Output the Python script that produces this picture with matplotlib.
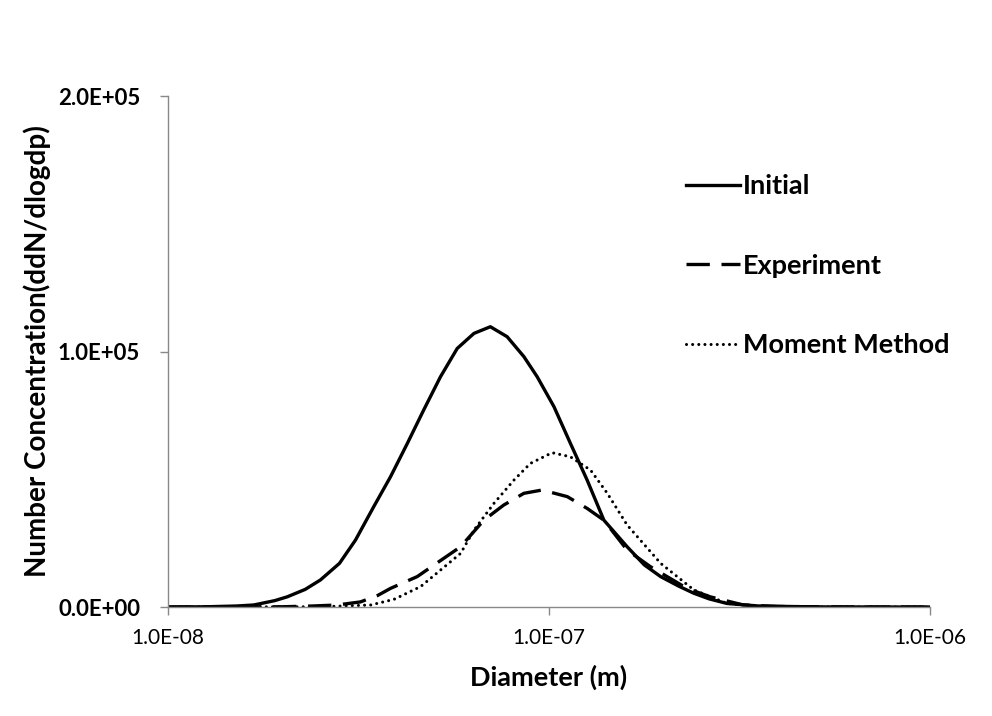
import matplotlib.pyplot as plt
from matplotlib.ticker import FixedLocator, FuncFormatter, NullLocator
import numpy as np

plt.rcParams['font.family'] = ['Lato', 'DejaVu Sans']

# diameters read as log10(d), values in number concentration
init_logd = [-8.0, -7.90, -7.82, -7.775, -7.72, -7.687, -7.64, -7.60, -7.55, -7.508,
             -7.460, -7.416, -7.372, -7.329, -7.285, -7.241, -7.197, -7.154, -7.110,
             -7.066, -7.031, -6.987, -6.944, -6.900, -6.856, -6.795, -6.75, -6.707,
             -6.66, -6.620, -6.58, -6.533, -6.45, -6.30, -6.0]
init_val = [0, 100, 400, 800, 2500, 4000, 6900, 10600, 17100, 26200,
            39300, 51000, 64000, 77100, 90100, 101200, 107100, 109700, 105800,
            98000, 90100, 78400, 64100, 49700, 34000, 23600, 16500, 11900,
            8200, 5400, 3200, 1400, 400, 50, 0]

exp_logd = [-8.0, -7.70, -7.62, -7.556, -7.495, -7.45, -7.416, -7.346, -7.232, -7.171,
            -7.119, -7.066, -7.018, -6.952, -6.900, -6.856, -6.795, -6.734, -6.690,
            -6.638, -6.577, -6.490, -6.40, -6.20, -6.0]
exp_val = [0, 100, 400, 800, 2000, 4500, 7300, 11900, 23600, 34000,
           39900, 44500, 45800, 43200, 38600, 34000, 22300, 15800, 11900,
           7300, 4000, 800, 200, 0, 0]

mom_logd = [-8.0, -7.60, -7.54, -7.468, -7.407, -7.337, -7.232, -7.197, -7.145, -7.092,
            -7.049, -6.992, -6.944, -6.891, -6.847, -6.795, -6.707, -6.620, -6.533,
            -6.45, -6.30, -6.0]
mom_val = [0, 100, 400, 800, 3000, 8000, 21000, 30100, 40500, 49700,
           56200, 60400, 58800, 53600, 44500, 32100, 17100, 6700, 1400,
           300, 0, 0]

x_ticks = [1e-8, 1e-7, 1e-6]
y_ticks = [0, 1e5, 2e5]

fig = plt.figure(figsize=(9.92, 7.16), dpi=100)
ax = fig.add_axes([0.1694, 0.1522, 0.7681, 0.7137])

ax.plot(10 ** np.array(init_logd), init_val, color='black', lw=2.4,
        solid_joinstyle='round', label='Initial')
ax.plot(10 ** np.array(exp_logd), exp_val, color='black', lw=2.4,
        dashes=(7, 3.5), label='Experiment')
ax.plot(10 ** np.array(mom_logd), mom_val, color='black', lw=2.2,
        dashes=(0.01, 2.0), dash_capstyle='round', label='Moment Method')

ax.set_xscale('log')
ax.set_xlim(1e-8, 1e-6)
ax.set_ylim(0, 2e5)
ax.xaxis.set_major_locator(FixedLocator(x_ticks))
ax.xaxis.set_minor_locator(NullLocator())
ax.yaxis.set_major_locator(FixedLocator(y_ticks))
ax.xaxis.set_major_formatter(FuncFormatter(lambda v, p: '%.1E' % v))
ax.yaxis.set_major_formatter(FuncFormatter(lambda v, p: '%.1E' % v))

for side in ['top', 'right']:
    ax.spines[side].set_visible(False)
for side in ['left', 'bottom']:
    ax.spines[side].set_color('#888888')
    ax.spines[side].set_linewidth(1)
ax.tick_params(axis='both', colors='#888888', length=6, width=1, labelcolor='black')
ax.tick_params(axis='x', labelsize=15, pad=9)
ax.tick_params(axis='y', labelsize=16, pad=14)
for t in ax.get_yticklabels():
    t.set_fontweight('bold')

ax.set_xlabel('Diameter (m)', fontsize=19.5, fontweight='bold', labelpad=12)
ax.set_ylabel('Number Concentration(ddN/dlogdp)', fontsize=20, fontweight='bold', labelpad=5)

leg = ax.legend(loc='upper left', bbox_to_anchor=(0.648, 0.895), frameon=False,
                handlelength=2.0, handletextpad=0.1, labelspacing=2.05,
                prop={'weight': 'bold', 'size': 19.5})

fig.savefig('out.png', dpi=100)
